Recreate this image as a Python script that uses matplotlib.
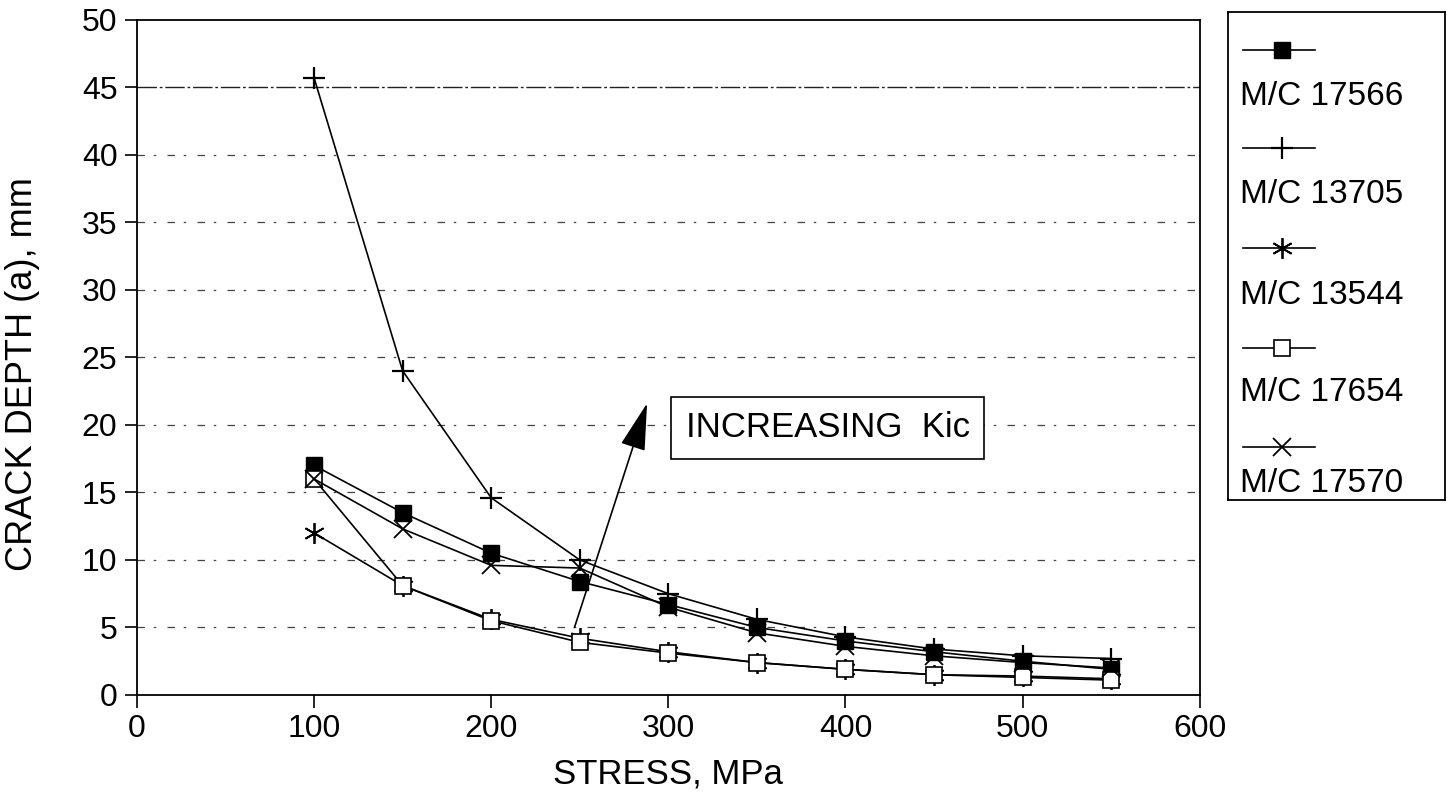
import matplotlib
matplotlib.use("Agg")
import matplotlib.pyplot as plt
from matplotlib.lines import Line2D

plt.rcParams['font.family'] = ['Liberation Sans', 'DejaVu Sans']

stress = [100, 150, 200, 250, 300, 350, 400, 450, 500, 550]

mc_17566 = [17.0, 13.5, 10.5, 8.4, 6.7, 5.0, 4.0, 3.2, 2.5, 1.9]
mc_13705 = [45.7, 24.0, 14.6, 10.0, 7.5, 5.6, 4.3, 3.4, 2.9, 2.7]
mc_13544 = [12.0, 8.1, 5.6, 4.2, 3.2, 2.4, 1.9, 1.5, 1.4, 1.2]
mc_17654 = [16.0, 8.1, 5.5, 3.9, 3.1, 2.4, 1.9, 1.5, 1.3, 1.1]
mc_17570 = [16.0, 12.3, 9.6, 9.4, 6.5, 4.6, 3.6, 2.9, 2.4, 2.0]

labels = ['M/C 17566', 'M/C 13705', 'M/C 13544', 'M/C 17654', 'M/C 17570']
x_ticks = [0, 100, 200, 300, 400, 500, 600]
y_ticks = [0, 5, 10, 15, 20, 25, 30, 35, 40, 45, 50]

styles = [
    dict(marker='s', markersize=12, markerfacecolor='black', markeredgecolor='black'),
    dict(marker='+', markersize=16, markeredgewidth=1.6),
    dict(marker=(6, 2, 0), markersize=15, markeredgewidth=1.3),
    dict(marker='s', markersize=12, markerfacecolor='white', markeredgecolor='black',
         markeredgewidth=1.2),
    dict(marker='x', markersize=13, markeredgewidth=1.3),
]
series = [mc_17566, mc_13705, mc_13544, mc_17654, mc_17570]

fig = plt.figure(figsize=(14.49, 7.92), dpi=100)
ax = fig.add_axes([0.0945, 0.1225, 0.7335, 0.8525])

for ys, st in zip(series, styles):
    ax.plot(stress, ys, color='black', linewidth=1.2, zorder=3, **st)

ax.set_xlim(0, 600)
ax.set_ylim(0, 50)
ax.set_xticks(x_ticks)
ax.set_yticks(y_ticks)
ax.tick_params(direction='out', length=9, width=1.2, labelsize=23, colors='black', pad=5)
for sp in ax.spines.values():
    sp.set_linewidth(1.3)

# ragged horizontal grid at each y tick
for yv in y_ticks[1:-1]:
    if yv == 45:
        ax.axhline(yv, color='#222222', linewidth=1.0, linestyle=(0, (14, 2, 2, 2)), zorder=1)
    else:
        ax.axhline(yv, color='#444444', linewidth=0.9, linestyle=(0, (6, 7, 2, 9)), zorder=1)

ax.set_xlabel('STRESS, MPa', fontsize=25)
ax.xaxis.set_label_coords(0.5, -0.093)
ax.set_ylabel('CRACK DEPTH (a), mm', fontsize=26)
ax.yaxis.set_label_coords(-0.091, 0.475)

# annotation: arrow and boxed note
ax.annotate('', xy=(288, 21.6), xytext=(247, 5.0),
            arrowprops=dict(arrowstyle='-|>,head_length=3.0,head_width=0.8',
                            mutation_scale=10, color='black', lw=1.2,
                            shrinkA=0, shrinkB=0), zorder=4)
ax.text(390, 19.8, 'INCREASING  Kic', fontsize=25, ha='center', va='center', zorder=5,
        bbox=dict(boxstyle='square,pad=0.42', facecolor='white', edgecolor='black', linewidth=1.2))

# legend panel: sample line above each label
lax = fig.add_axes([0.8475, 0.369, 0.1495, 0.616])
lax.set_xlim(0, 1)
lax.set_ylim(0, 1)
lax.set_xticks([])
lax.set_yticks([])
for sp in lax.spines.values():
    sp.set_linewidth(1.3)
handle_y = [0.922, 0.721, 0.516, 0.311, 0.109]
label_y = [0.826, 0.625, 0.418, 0.219, 0.033]
for lab, st, hy, ly in zip(labels, styles, handle_y, label_y):
    lax.add_line(Line2D([0.07, 0.40], [hy, hy], color='black',
                        linewidth=1.2, **{k: v for k, v in st.items() if k != 'marker'}))
    lax.plot([0.25], [hy], color='black', linestyle='none', **st)
    lax.text(0.055, ly, lab, fontsize=24, ha='left', va='center')

fig.savefig('out.png', dpi=100)
